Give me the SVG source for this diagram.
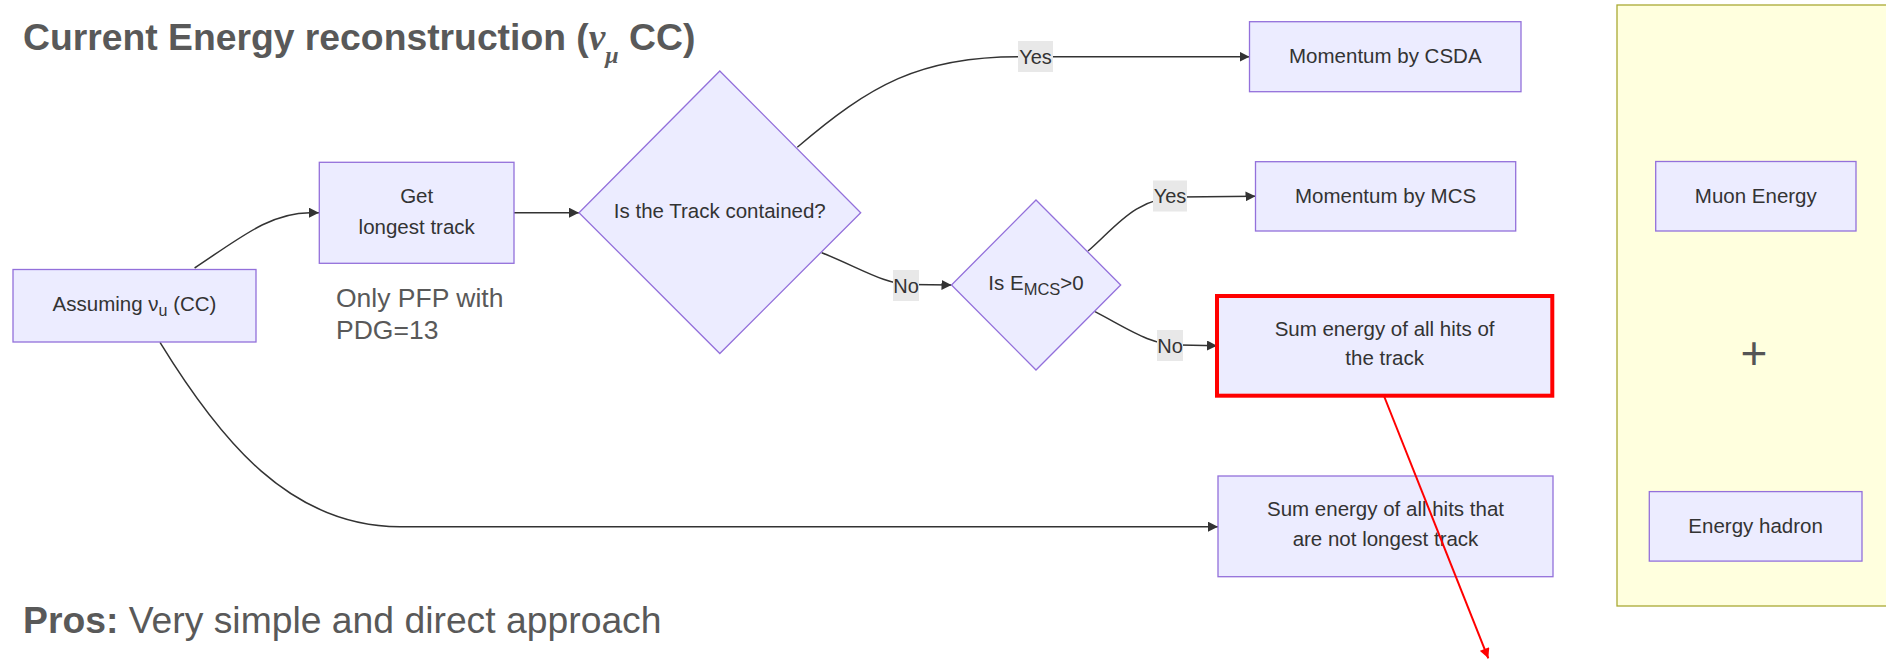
<svg xmlns="http://www.w3.org/2000/svg" width="1886" height="661" viewBox="0 0 1886 661">
  <style>
    .node { fill: #ececff; stroke: #9370db; stroke-width: 1.3; }
    .hot { fill: #ececff; stroke: #ff0000; stroke-width: 4; }
    .cluster { fill: #ffffde; stroke: #aaaa33; stroke-width: 1.3; }
    .label { font-family: "Liberation Sans", Arial, sans-serif; font-size: 20.5px; fill: #333333; text-anchor: middle; }
    .edge { fill: none; stroke: #333333; stroke-width: 1.5; }
    .elbg { fill: #e8e8e8; }
    .eltext { font-family: "Liberation Sans", Arial, sans-serif; font-size: 20px; fill: #333333; text-anchor: middle; }
    .note { font-family: "Liberation Sans", Arial, sans-serif; fill: #595959; }
    .greek { font-family: "Liberation Serif", "DejaVu Serif", serif; font-style: italic; }
  </style>
  <defs>
    <marker id="arrow" viewBox="0 0 10 10" refX="10" refY="5" markerWidth="10" markerHeight="10" markerUnits="userSpaceOnUse" orient="auto">
      <path d="M0,0 L10,5 L0,10 z" fill="#333333"/>
    </marker>
    <marker id="arrowRed" viewBox="0 0 10 10" refX="10" refY="5" markerWidth="12" markerHeight="10" markerUnits="userSpaceOnUse" orient="auto">
      <path d="M0,0 L10,5 L0,10 z" fill="#ff0000"/>
    </marker>
  </defs>

  <!-- headings -->
  <text class="note" x="23" y="50" font-size="37.3" font-weight="bold">Current Energy reconstruction (<tspan class="greek">ν</tspan><tspan class="greek" font-size="24" dy="13">μ</tspan><tspan dy="-13"> CC)</tspan></text>
  <text class="note" x="23" y="633" font-size="37.3"><tspan font-weight="bold">Pros:</tspan> Very simple and direct approach</text>
  <text class="note" x="336" y="307" font-size="26.5">Only PFP with</text>
  <text class="note" x="336" y="339" font-size="26.5">PDG=13</text>

  <!-- summary panel -->
  <g id="summary">
    <rect class="cluster" x="1617" y="5" width="300" height="601"/>
    <text x="1754" y="369" font-family="Liberation Sans, Arial, sans-serif" font-size="46" fill="#555555" text-anchor="middle">+</text>
  </g>

  <!-- connectors -->
  <g id="connectors">
    <path class="edge" d="M194.6,268 C240,238 270,212.7 310,212.7 L319,212.7" marker-end="url(#arrow)"/>
    <path class="edge" d="M514,212.7 L579,212.7" marker-end="url(#arrow)"/>
    <path class="edge" d="M797.3,147.3 C870,85 920,56.7 1018,56.7 L1249.5,56.7" marker-end="url(#arrow)"/>
    <path class="edge" d="M821.7,252.7 C860,268 885,284.5 910,284.5 L951.5,285" marker-end="url(#arrow)"/>
    <path class="edge" d="M1088,251 C1115,228 1135,197 1180,197 L1255.5,196.3" marker-end="url(#arrow)"/>
    <path class="edge" d="M1095,311.7 C1130,330 1150,345 1180,345 L1217,345.7" marker-end="url(#arrow)"/>
    <path class="edge" d="M160,342.3 C220,440 290,526.7 400,526.7 L1218,526.7" marker-end="url(#arrow)"/>

    <!-- edge labels -->
    <rect class="elbg" x="1018" y="41" width="35" height="31"/>
    <text class="eltext" x="1035.5" y="63.5">Yes</text>
    <rect class="elbg" x="1153" y="180.5" width="34" height="31"/>
    <text class="eltext" x="1170" y="203">Yes</text>
    <rect class="elbg" x="893" y="270" width="26" height="31"/>
    <text class="eltext" x="906" y="292.5">No</text>
    <rect class="elbg" x="1157" y="330" width="26" height="31"/>
    <text class="eltext" x="1170" y="352.5">No</text>
  </g>

  <g id="assume">
    <rect class="node" x="13" y="269.5" width="243" height="72.5"/>
    <text class="label" x="134.5" y="311">Assuming ν<tspan font-size="16" dy="5">u</tspan><tspan dy="-5"> (CC)</tspan></text>
  </g>

  <g id="longest">
    <rect class="node" x="319.3" y="162.3" width="194.7" height="101"/>
    <text class="label" x="416.7" y="203">Get</text>
    <text class="label" x="416.7" y="233.5">longest track</text>
  </g>

  <g id="contained">
    <polygon class="node" points="719.8,71 860.7,212.7 719.8,353.5 579,212.7"/>
    <text class="label" x="719.8" y="217.5">Is the Track contained?</text>
  </g>

  <g id="csda">
    <rect class="node" x="1249.5" y="21.7" width="271.5" height="70"/>
    <text class="label" x="1385.3" y="63">Momentum by CSDA</text>
  </g>

  <g id="emcs">
    <polygon class="node" points="1036,200 1120.7,285 1036,370 951.5,285"/>
    <text class="label" x="1036" y="289.5">Is E<tspan font-size="16.5" dy="5">MCS</tspan><tspan dy="-5">&gt;0</tspan></text>
  </g>

  <g id="mcs">
    <rect class="node" x="1255.5" y="161.7" width="260.2" height="69.3"/>
    <text class="label" x="1385.6" y="203">Momentum by MCS</text>
  </g>

  <g id="trackhits">
    <rect class="hot" x="1217" y="296" width="335.3" height="99.7"/>
    <text class="label" x="1384.6" y="336">Sum energy of all hits of</text>
    <text class="label" x="1384.6" y="365">the track</text>
  </g>

  <g id="otherhits">
    <rect class="node" x="1218" y="476" width="335" height="100.7"/>
    <text class="label" x="1385.5" y="516">Sum energy of all hits that</text>
    <text class="label" x="1385.5" y="546">are not longest track</text>
  </g>

  <g id="muon">
    <rect class="node" x="1655.7" y="161.5" width="200.3" height="69.5"/>
    <text class="label" x="1755.8" y="203">Muon Energy</text>
  </g>

  <g id="hadron">
    <rect class="node" x="1649.3" y="491.6" width="212.7" height="69.5"/>
    <text class="label" x="1755.6" y="533">Energy hadron</text>
  </g>

  <!-- red pointer drawn over the lower box -->
  <g id="pointer">
    <path d="M1384,396 L1488.3,658.3" fill="none" stroke="#ff0000" stroke-width="2" marker-end="url(#arrowRed)"/>
  </g>
</svg>
